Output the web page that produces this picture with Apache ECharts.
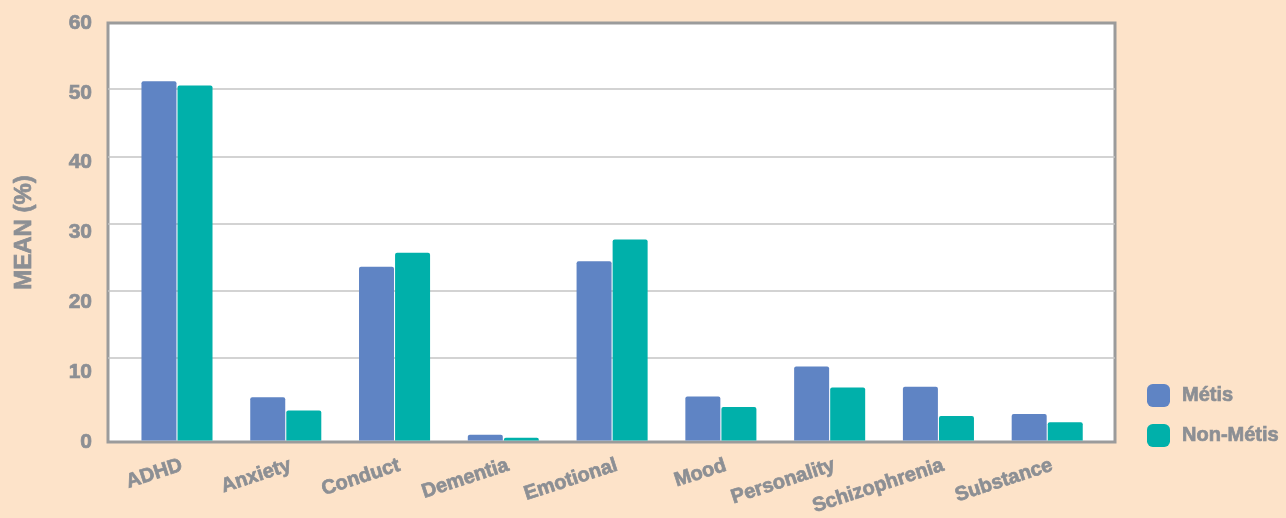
<!DOCTYPE html>
<html>
<head>
<meta charset="utf-8">
<title>Mean (%) by diagnosis — Métis vs Non-Métis</title>
<script src="https://cdn.jsdelivr.net/npm/echarts@6/dist/echarts.min.js"></script>
<style>
  html, body { margin: 0; padding: 0; background: #fde3c9; }
  #chart { width: 1286px; height: 518px; }
</style>
</head>
<body>
<div id="chart"></div>
<script>
// Diagnosis categories along the x axis
const categories = ['ADHD', 'Anxiety', 'Conduct', 'Dementia', 'Emotional', 'Mood', 'Personality', 'Schizophrenia', 'Substance'];
// Mean percentage per diagnosis
const metis    = [51.5, 6.2, 24.9, 0.8, 25.7, 6.3, 10.6, 7.7, 3.8];
const nonMetis = [50.9, 4.3, 26.9, 0.4, 28.8, 4.8, 7.6, 3.5, 2.6];
// Value axis ticks
const yMin = 0, yMax = 60, yStep = 10;

const textGray = '#8c8f94';
const font = '"Liberation Sans", Arial, sans-serif';
// slight outline in the text colour gives the heavier lettering
const heavy = { textBorderColor: textGray, textBorderWidth: 0.7 };

const chart = echarts.init(document.getElementById('chart'), null, { renderer: 'canvas' });

chart.setOption({
  backgroundColor: '#fde3c9',
  animation: false,
  legend: {
    orient: 'vertical',
    left: 1142,
    top: 379,
    itemWidth: 23,
    itemHeight: 23,
    itemGap: 17,
    icon: 'roundRect',
    textStyle: Object.assign({ color: textGray, fontSize: 20, fontWeight: 'bold', fontFamily: font, padding: [0, 0, 0, 7] }, heavy),
    data: ['Métis', 'Non-Métis']
  },
  grid: [
    // white panel with its frame
    { left: 108, right: 171, top: 23, bottom: 76, show: true, backgroundColor: '#ffffff', borderColor: '#9b9b9b', borderWidth: 3, z: 0 },
    // horizontal guide lines
    { left: 108, right: 171, top: 21.75, bottom: 92.75, show: false },
    // bar area
    { left: 122.6, right: 184.4, top: 22, bottom: 77, show: false }
  ],
  xAxis: [
    { gridIndex: 0, type: 'value', show: false },
    { gridIndex: 1, type: 'value', show: false },
    {
      gridIndex: 2,
      type: 'category',
      data: categories,
      axisLine: { show: false },
      axisTick: { show: false },
      axisLabel: Object.assign({
        rotate: 18,
        margin: 26,
        color: textGray,
        fontSize: 20,
        fontWeight: 'bold',
        fontFamily: font,
        interval: 0,
        padding: [0, -5, 0, 0]
      }, heavy)
    }
  ],
  yAxis: [
    {
      gridIndex: 0,
      type: 'value',
      min: yMin, max: yMax, interval: yStep,
      name: 'MEAN (%)',
      nameLocation: 'middle',
      nameGap: 72,
      nameTextStyle: Object.assign({ color: textGray, fontSize: 24, fontWeight: 'bold', fontFamily: font }, heavy),
      axisLine: { show: false },
      axisTick: { show: false },
      splitLine: { show: false },
      axisLabel: Object.assign({ color: textGray, fontSize: 21, fontWeight: 'bold', fontFamily: font, margin: 16 }, heavy)
    },
    {
      gridIndex: 1,
      type: 'value',
      min: yMin, max: yMax, interval: yStep,
      axisLine: { show: false },
      axisTick: { show: false },
      axisLabel: { show: false },
      splitLine: { show: true, showMinLine: false, showMaxLine: false, lineStyle: { color: '#c4c4c4', width: 1.5 } }
    },
    {
      gridIndex: 2,
      type: 'value',
      min: yMin, max: yMax, interval: yStep,
      show: false,
      splitLine: { show: false }
    }
  ],
  series: [
    {
      name: 'Métis',
      type: 'bar',
      xAxisIndex: 2, yAxisIndex: 2,
      data: metis,
      barWidth: 35,
      barGap: '3%',
      itemStyle: { color: '#5f84c4', borderRadius: [2, 2, 0, 0] },
      z: 3
    },
    {
      name: 'Non-Métis',
      type: 'bar',
      xAxisIndex: 2, yAxisIndex: 2,
      data: nonMetis,
      barWidth: 35,
      barGap: '3%',
      itemStyle: { color: '#00b0aa', borderRadius: [2, 2, 0, 0] },
      z: 3
    }
  ]
});
</script>
</body>
</html>
